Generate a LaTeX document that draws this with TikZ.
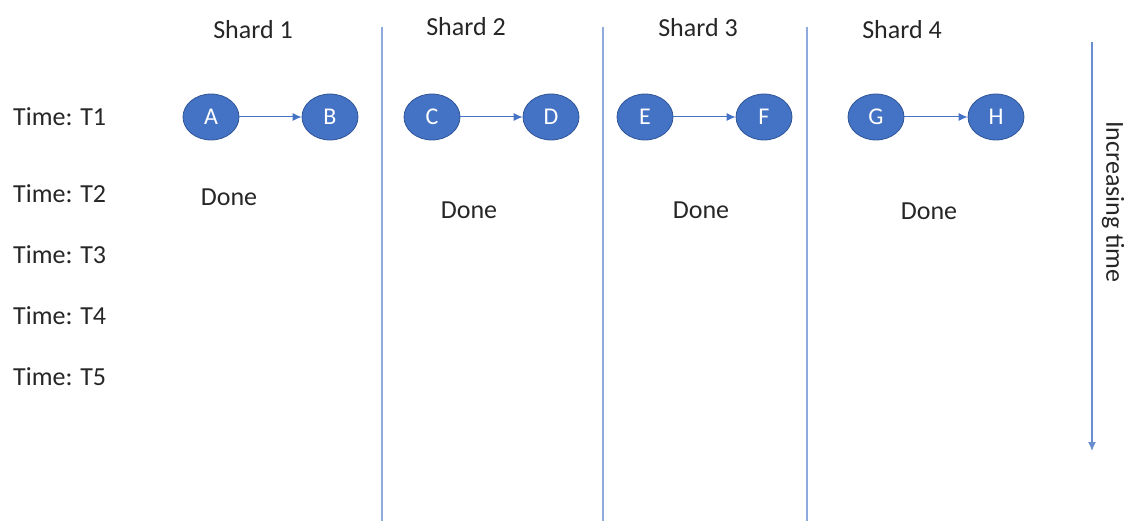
\documentclass[tikz,border=0pt]{standalone}
\usepackage{fontspec}
\setmainfont{Carlito}
\usetikzlibrary{arrows.meta}
\definecolor{officeblue}{HTML}{4472C4}
\definecolor{edgeblue}{HTML}{2F5597}
\definecolor{divider}{HTML}{8FAADC}
\definecolor{ink}{HTML}{262626}
\tikzset{
  x=1pt, y=-1pt,
  txt/.style={font=\fontsize{26}{30}\selectfont, text=ink, inner sep=0pt},
  task/.style={ellipse, draw=edgeblue, line width=0.8pt, fill=officeblue,
    minimum width=56pt, minimum height=46pt, inner sep=0pt,
    text=white, font=\fontsize{24}{28}\selectfont},
  link/.style={draw=officeblue, line width=1pt, -{Latex[length=9pt,width=8pt]}},
  split/.style={draw=divider, line width=1.3pt},
  timeaxis/.style={draw=officeblue!80, line width=1.3pt, -{Latex[length=9pt,width=8pt]}}
}
\usetikzlibrary{shapes.geometric}
\begin{document}
\begin{tikzpicture}
\useasboundingbox (0,0) rectangle (1124,521);

% shard column titles
\node[txt] (s1) at (253,30) {Shard 1};
\node[txt] (s2) at (466,27) {Shard 2};
\node[txt] (s3) at (698,28) {Shard 3};
\node[txt] (s4) at (902,30) {Shard 4};

% column dividers
\coordinate (d1t) at (382,27); \coordinate (d1b) at (382,521);
\coordinate (d2t) at (603,27); \coordinate (d2b) at (603,521);
\coordinate (d3t) at (807,27); \coordinate (d3b) at (807,521);
\draw[split] (d1t) -- (d1b);
\draw[split] (d2t) -- (d2b);
\draw[split] (d3t) -- (d3b);

% time rows
\node[txt, anchor=west] (t1) at (13,117) {Time: T1};
\node[txt, anchor=west] (t2) at (13,194) {Time: T2};
\node[txt, anchor=west] (t3) at (13,255) {Time: T3};
\node[txt, anchor=west] (t4) at (13,316) {Time: T4};
\node[txt, anchor=west] (t5) at (13,377) {Time: T5};

% tasks per shard
\node[task] (A) at (211,117) {A};
\node[task] (B) at (330,117) {B};
\node[task] (C) at (432,117) {C};
\node[task] (D) at (551,117) {D};
\node[task] (E) at (645,117) {E};
\node[task] (F) at (764,117) {F};
\node[task] (G) at (876,117) {G};
\node[task] (H) at (996,117) {H};
\draw[link] (A) -- (B);
\draw[link] (C) -- (D);
\draw[link] (E) -- (F);
\draw[link] (G) -- (H);

% completion marks
\node[txt] (done1) at (229,197) {Done};
\node[txt] (done2) at (469,210) {Done};
\node[txt] (done3) at (701,210) {Done};
\node[txt] (done4) at (929,211) {Done};

% time axis
\coordinate (ax0) at (1092,42);
\coordinate (ax1) at (1092,451);
\draw[timeaxis] (ax0) -- (ax1);
\node[txt, rotate=-90] (axlabel) at (1113,202) {Increasing time};
\end{tikzpicture}
\end{document}
